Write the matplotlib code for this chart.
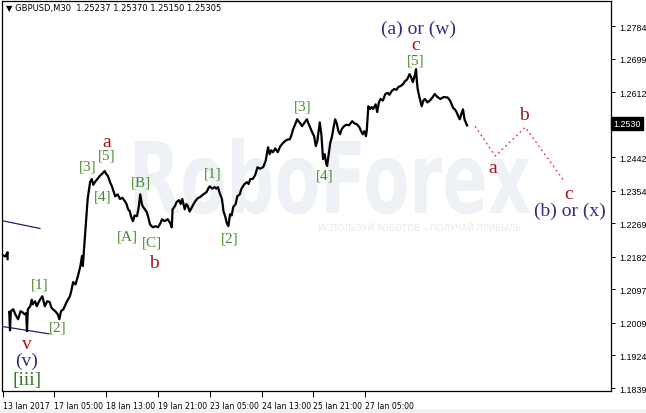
import matplotlib
matplotlib.use("Agg")
import matplotlib.pyplot as plt
from matplotlib.textpath import TextPath
from matplotlib.patches import PathPatch, Rectangle
from matplotlib.font_manager import FontProperties
import matplotlib.transforms as mtransforms

# ---------------- data ----------------
title_text = "\u25bc GBPUSD,M30  1.25237 1.25370 1.25150 1.25305"

pre_x = [0, 3, 5, 6, 6]
pre_y = [1.2186, 1.2183, 1.2190, 1.2194, 1.2176]

bars = [8, 9, 10, 13, 16, 19, 22, 24, 27, 29, 30, 31, 34, 36, 37, 40, 42, 46, 49, 52,
        55, 58, 60, 62, 65, 68, 70, 72, 75, 79, 83, 85, 87, 90, 92, 93, 96, 98, 99, 102,
        104, 105, 108, 110, 112, 114, 117, 120, 123, 126, 128, 130, 133, 135, 139, 142, 145, 148, 151, 153,
        155, 157, 159, 161, 163, 166, 168, 170, 172, 173, 176, 178, 180, 182, 184, 186, 189, 192, 195, 197,
        200, 204, 207, 209, 210, 213, 215, 218, 220, 222, 225, 227, 229, 231, 234, 236, 238, 241, 244, 248,
        252, 254, 256, 259, 262, 264, 266, 268, 271, 273, 275, 277, 279, 281, 283, 285, 288, 290, 293, 295,
        297, 299, 302, 304, 306, 309, 312, 315, 318, 322, 325, 328, 330, 332, 334, 337, 340, 343, 346, 349,
        352, 355, 357, 359, 362, 364, 366, 368, 370, 373, 376, 378, 380, 383, 385, 387, 389, 390, 392, 394,
        396, 398, 400, 401, 403, 405, 407, 409, 411, 413, 415, 417, 419, 422, 425, 428, 432, 435, 438, 441,
        443, 445, 447, 449, 450, 452, 454, 456, 458, 461, 463, 465, 467, 470, 473, 476, 478, 481, 484, 487,
        489, 492, 495, 497, 500, 503, 505, 507, 509, 511, 512, 513, 515, 518, 520, 522, 525, 528, 531, 534,
        537, 541, 545, 550, 553, 555, 557, 559, 561, 563, 565, 567, 569, 571, 573, 574]
close = [1.2038, 1.1990, 1.2040, 1.2045, 1.2030, 1.2019, 1.2040, 1.2038, 1.2032, 1.2035, 1.1988, 1.2045, 1.2053, 1.2070, 1.2058, 1.2066, 1.2053, 1.2070, 1.2079, 1.2053,
         1.2066, 1.2064, 1.2050, 1.2045, 1.2040, 1.2032, 1.2019, 1.2040, 1.2045, 1.2064, 1.2079, 1.2095, 1.2116, 1.2110, 1.2124, 1.2132, 1.2158, 1.2184, 1.2158, 1.2246,
         1.2306, 1.2333, 1.2377, 1.2385, 1.2370, 1.2377, 1.2385, 1.2393, 1.2399, 1.2406, 1.2398, 1.2393, 1.2375, 1.2366, 1.2340, 1.2345, 1.2333, 1.2336, 1.2327, 1.2320,
         1.2306, 1.2301, 1.2285, 1.2275, 1.2290, 1.2288, 1.2310, 1.2345, 1.2320, 1.2314, 1.2305, 1.2299, 1.2285, 1.2267, 1.2262, 1.2259, 1.2262, 1.2259, 1.2270, 1.2280,
         1.2275, 1.2280, 1.2270, 1.2259, 1.2306, 1.2315, 1.2325, 1.2330, 1.2320, 1.2333, 1.2306, 1.2320, 1.2314, 1.2300, 1.2312, 1.2320, 1.2327, 1.2335, 1.2338, 1.2345,
         1.2351, 1.2360, 1.2366, 1.2360, 1.2364, 1.2360, 1.2364, 1.2350, 1.2333, 1.2300, 1.2288, 1.2270, 1.2262, 1.2293, 1.2290, 1.2312, 1.2320, 1.2340, 1.2345, 1.2359,
         1.2366, 1.2372, 1.2377, 1.2372, 1.2385, 1.2385, 1.2395, 1.2416, 1.2412, 1.2416, 1.2432, 1.2468, 1.2450, 1.2460, 1.2455, 1.2465, 1.2455, 1.2470, 1.2478, 1.2484,
         1.2488, 1.2489, 1.2500, 1.2515, 1.2530, 1.2541, 1.2535, 1.2530, 1.2523, 1.2532, 1.2541, 1.2530, 1.2520, 1.2505, 1.2497, 1.2471, 1.2485, 1.2502, 1.2533, 1.2500,
         1.2437, 1.2450, 1.2425, 1.2419, 1.2450, 1.2480, 1.2495, 1.2520, 1.2541, 1.2530, 1.2510, 1.2502, 1.2515, 1.2523, 1.2527, 1.2525, 1.2536, 1.2530, 1.2528, 1.2520,
         1.2510, 1.2502, 1.2510, 1.2497, 1.2510, 1.2575, 1.2568, 1.2573, 1.2568, 1.2580, 1.2560, 1.2585, 1.2594, 1.2590, 1.2607, 1.2610, 1.2605, 1.2615, 1.2620, 1.2618,
         1.2625, 1.2628, 1.2633, 1.2640, 1.2645, 1.2659, 1.2650, 1.2638, 1.2652, 1.2672, 1.2640, 1.2620, 1.2600, 1.2575, 1.2590, 1.2594, 1.2585, 1.2590, 1.2597, 1.2607,
         1.2600, 1.2594, 1.2599, 1.2598, 1.2590, 1.2580, 1.2570, 1.2567, 1.2560, 1.2550, 1.2541, 1.2555, 1.2567, 1.2540, 1.2530, 1.2525]

proj_x = [584, 609, 646, 695]
proj_y = [1.2523, 1.2445, 1.2520, 1.2377]

chan1_x = [0, 46]
chan1_y = [1.2276, 1.2256]
chan2_x = [0, 57]
chan2_y = [1.2000, 1.1981]

y_ticks = [1.27845, 1.26995, 1.26120, 1.24420, 1.23545, 1.22695, 1.21820, 1.20970, 1.20095, 1.19245, 1.18395]
y_tick_labels = ["1.2784", "1.2699", "1.2612", "1.2442", "1.2354", "1.2269", "1.2182", "1.2097", "1.2009", "1.1924", "1.1839"]
last_price = 1.25305
last_price_label = "1.2530"
x_ticks = [0, 64, 128, 192, 256, 320, 384, 448]
x_labels = ["13 Jan 2017", "17 Jan 05:00", "18 Jan 13:00", "19 Jan 21:00",
            "23 Jan 05:00", "24 Jan 13:00", "25 Jan 21:00", "27 Jan 05:00"]

wave_labels = [("[1]", 46, 1.2111), ("[2]", 68, 1.1998), ("[3]", 105, 1.2419), ("[5]", 129, 1.2447),
               ("[4]", 123, 1.2340), ("[A]", 154, 1.2236), ("[B]", 171, 1.2377), ("[C]", 185, 1.2220),
               ("[1]", 259, 1.2400), ("[2]", 280, 1.2231), ("[3]", 371, 1.2575), ("[4]", 398, 1.2395),
               ("[5]", 510, 1.2695)]
red_labels = [("v", 30, 1.1956), ("a", 129, 1.2484), ("b", 187, 1.2168), ("c", 510, 1.2735),
              ("a", 606, 1.2416), ("b", 644, 1.2554), ("c", 699, 1.2348)]
navy_labels = [("(v)", 30, 1.1913), ("(a) or (w)", 514, 1.2778), ("(b) or (x)", 701, 1.2304)]
big_wave_labels = [("[iii]", 30, 1.1863)]

# ---------------- figure ----------------
W, H = 646, 414
fig = plt.figure(figsize=(W / 100, H / 100), dpi=100)
fig.patch.set_facecolor("white")
fig.patches.append(Rectangle((0, 0), 1, 4 / H, transform=fig.transFigure,
                             facecolor="#F0F0F0", edgecolor="none", zorder=0))

ax = fig.add_axes([2 / W, 22 / H, 609 / W, 390 / H])
ax.set_xlim(-0.9, 752)
ax.set_ylim(1.18317, 1.28498)

# watermark (behind everything in the axes)
fp = FontProperties(family="DejaVu Sans", weight="bold")
tp = TextPath((0, 0), "RoboForex", size=1, prop=fp)
bb = tp.get_extents()
sx = 395 / bb.width
sy = 72 / 0.73
tr = mtransforms.Affine2D().translate(-bb.x0, 0).scale(sx / 100, sy / 100).translate(135 / 100, (H - 214) / 100) + fig.dpi_scale_trans
wm = PathPatch(tp, transform=tr, facecolor="#EEF1F5", edgecolor="none", zorder=0.5)
wm.set_clip_on(False)
ax.add_artist(wm)
ax.text(420 / W, 1 - 229 / H, "ИСПОЛЬЗУЙ РОБОТОВ – ПОЛУЧАЙ ПРИБЫЛЬ", transform=fig.transFigure,
        fontsize=6.3, color="#E6E9EE", ha="center", va="center", family="DejaVu Sans", zorder=0.6)

# price
ax.plot(pre_x, pre_y, color="black", lw=1.6, zorder=3)
ax.plot(bars, close, color="black", lw=1.6, zorder=3)
ax.plot(proj_x, proj_y, color="#E3284F", lw=0.9, ls=(0, (1.5, 2.5)), zorder=3)
ax.plot(chan1_x, chan1_y, color="#1F1F7A", lw=0.9, zorder=2)
ax.plot(chan2_x, chan2_y, color="#1F1F7A", lw=0.9, zorder=2)

serif = "Liberation Serif"
for t, x, y in wave_labels:
    ax.text(x, y, t, fontsize=11, color="#4A8A2C", family=serif, ha="center", va="center", zorder=4)
for t, x, y in big_wave_labels:
    ax.text(x, y, t, fontsize=14, color="#3A7A22", family=serif, ha="center", va="center", zorder=4)
for t, x, y in red_labels:
    ax.text(x, y, t, fontsize=14, color="#A3161E", family=serif, ha="center", va="center", zorder=4)
for t, x, y in navy_labels:
    ax.text(x, y, t, fontsize=14, color="#2E2E86", family=serif, ha="center", va="center", zorder=4)

ax.text(0.006, 0.984, title_text, transform=ax.transAxes, fontsize=6, ha="left", va="center",
        family="DejaVu Sans", color="black", zorder=5)

# axes style
for s in ax.spines.values():
    s.set_color("black")
    s.set_linewidth(0.9)
ax.yaxis.tick_right()
ax.set_yticks(y_ticks)
ax.set_yticklabels(y_tick_labels, family="Liberation Sans")
ax.tick_params(axis="y", direction="out", length=3, width=0.7, labelsize=6.4, pad=3, colors="black")
ax.set_xticks(x_ticks)
ax.set_xticklabels(x_labels)
ax.tick_params(axis="x", direction="out", length=4, width=0.7, labelsize=5.6, pad=3, colors="black")
for lbl in ax.get_xticklabels():
    lbl.set_ha("left")

# current price tag
ax.text(1.004, last_price, last_price_label, transform=ax.get_yaxis_transform(), fontsize=6.4,
        color="white", ha="left", va="center", family="Liberation Sans",
        bbox=dict(boxstyle="square,pad=0.25", facecolor="black", edgecolor="black"), zorder=5, clip_on=False)

fig.savefig("out.png", dpi=100)
